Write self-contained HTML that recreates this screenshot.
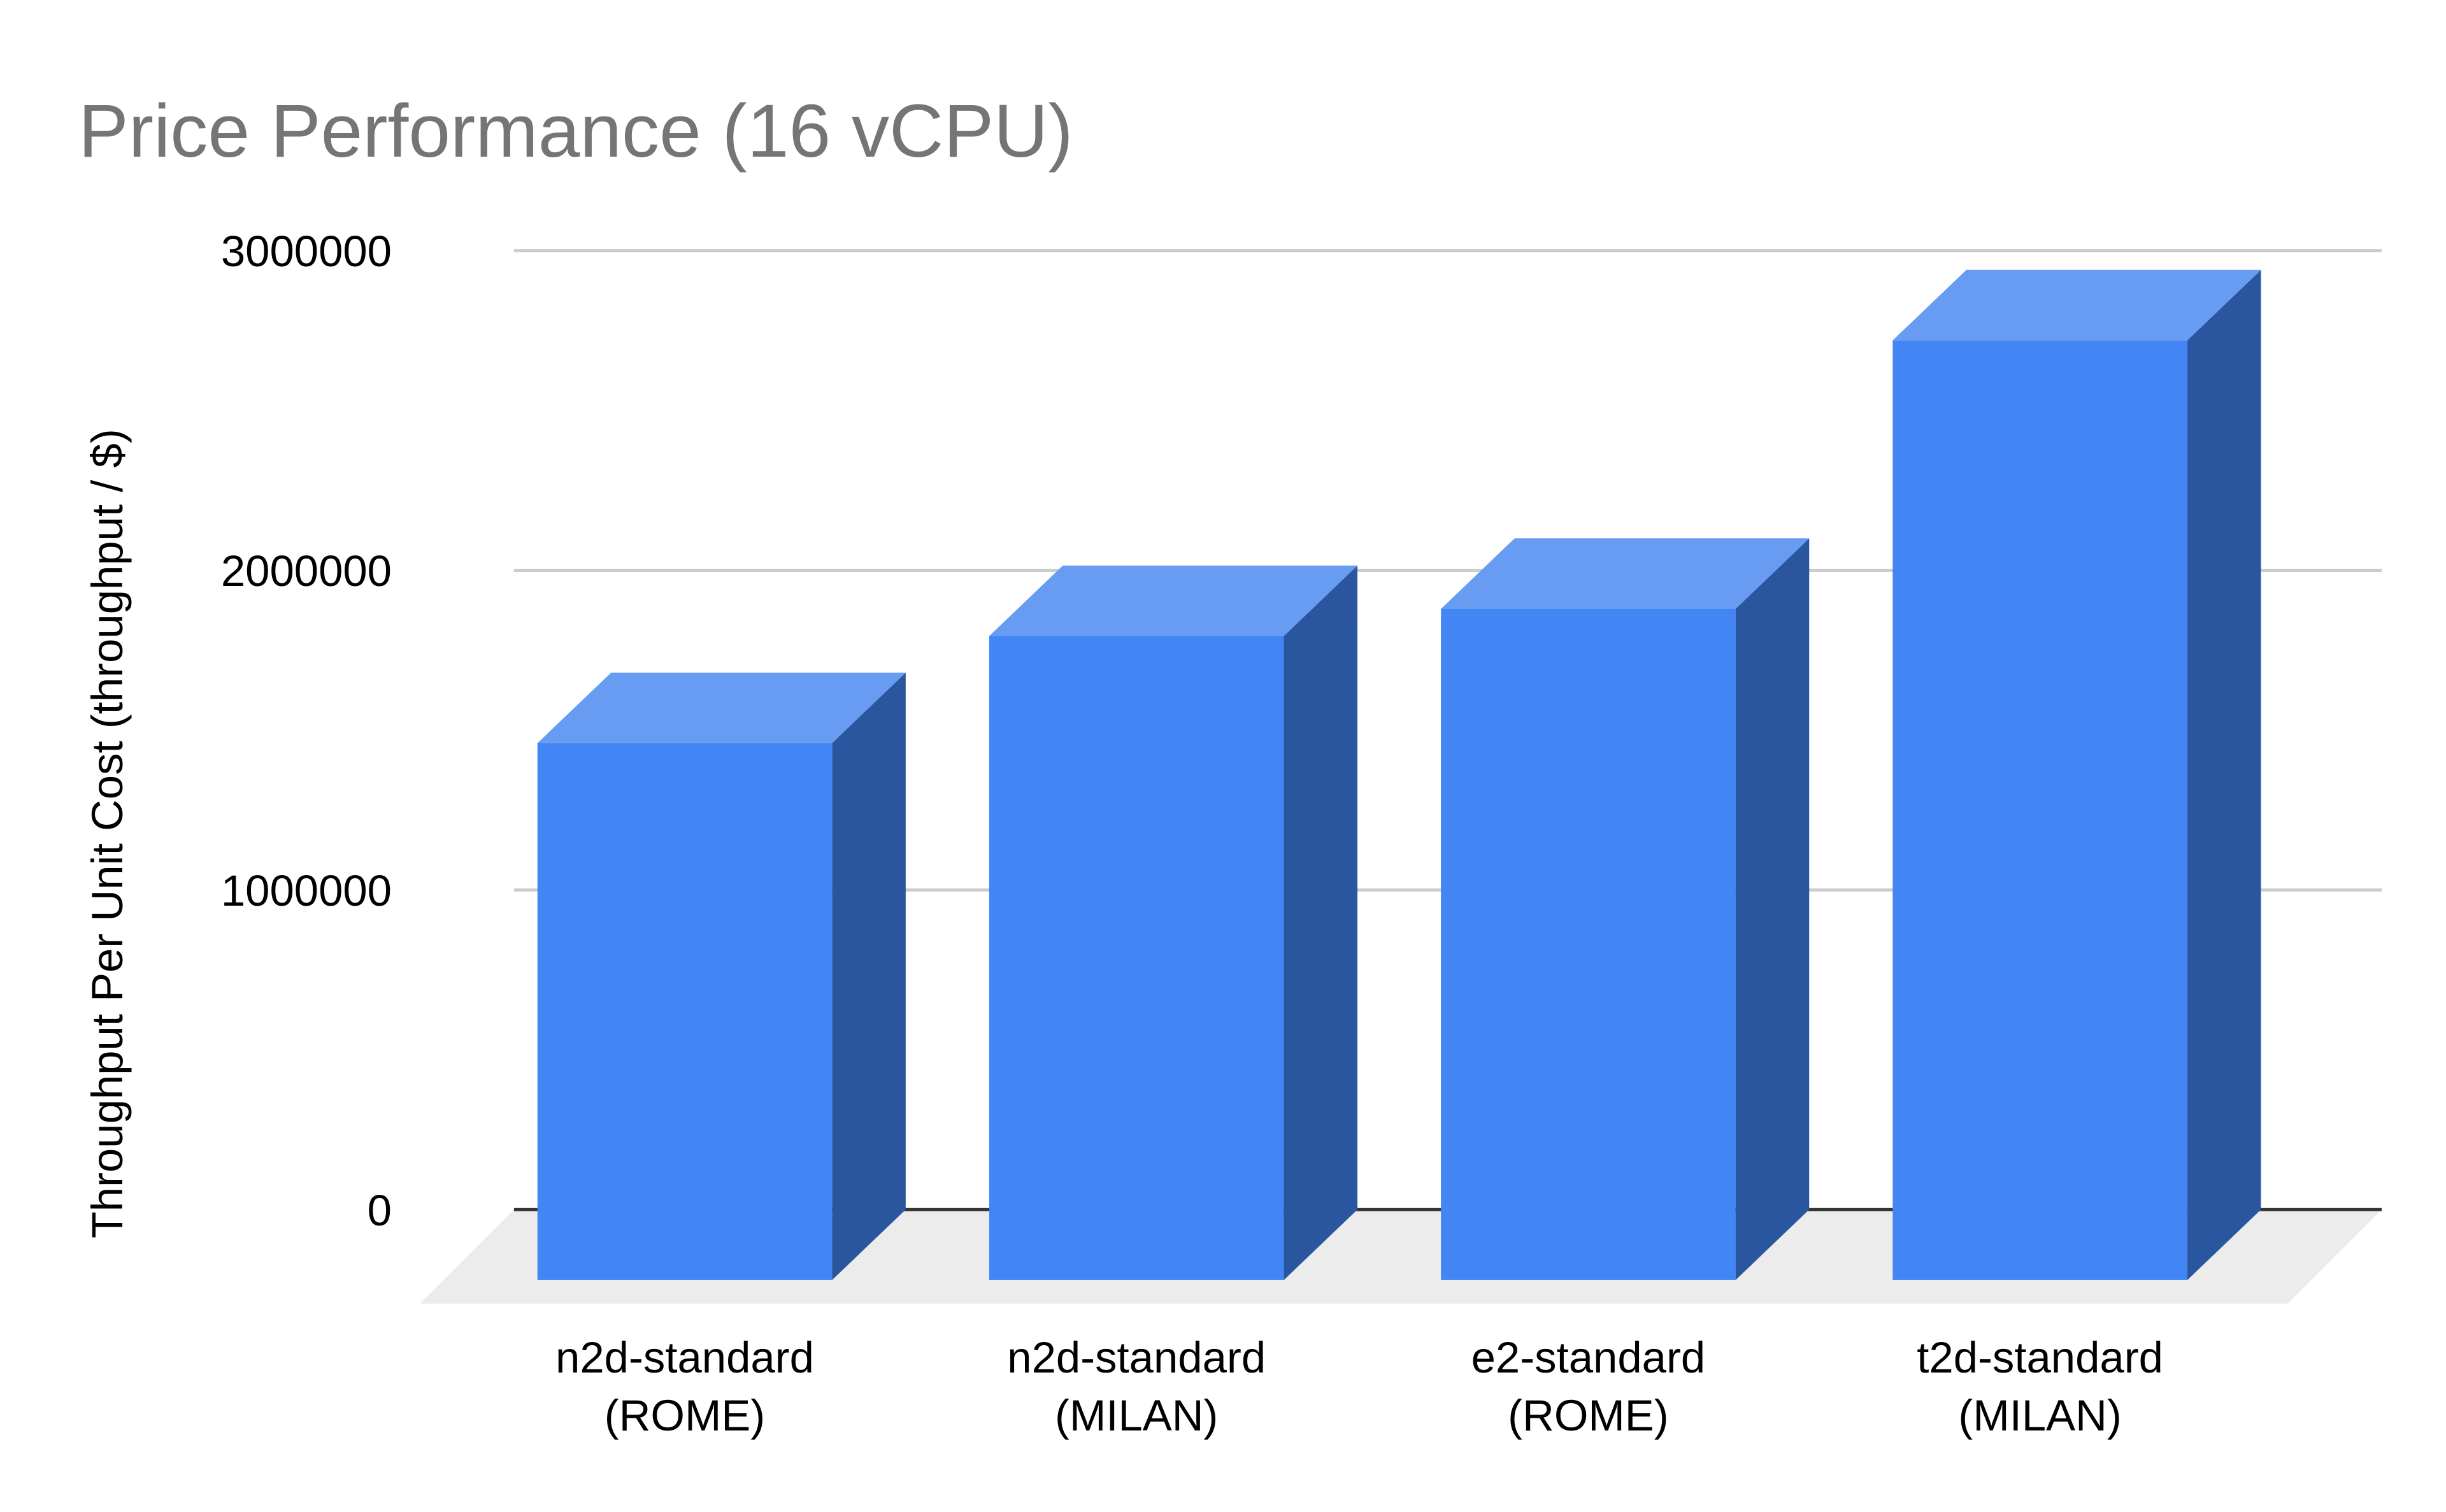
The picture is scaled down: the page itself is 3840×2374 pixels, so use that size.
<!DOCTYPE html>
<html><head><meta charset="utf-8"><style>
html,body{margin:0;padding:0;background:#fff}
svg{display:block}
text{font-family:"Liberation Sans",Arial,sans-serif}
</style></head><body>
<svg id="chart" width="3840" height="2374" viewBox="0 0 1561 965" preserveAspectRatio="none" xmlns="http://www.w3.org/2000/svg">
<rect x="0" y="0" width="1561" height="965" fill="#fff"/>
<text x="50" y="100" font-size="48" fill="#757575">Price Performance (16 vCPU)</text>
<text transform="translate(78,532) rotate(-90)" text-anchor="middle" font-size="28" fill="#000">Throughput Per Unit Cost (throughput / $)</text>
<g id="grid"></g>
<g id="bars"></g>
<g id="labels"></g>
</svg>
<script>
const categories = [["n2d-standard","(ROME)"],["n2d-standard","(MILAN)"],["e2-standard","(ROME)"],["t2d-standard","(MILAN)"]];
const values = [1680000, 2015000, 2100000, 2940000];
const yTicks = [0, 1000000, 2000000, 3000000];
const yTickLabels = ["0", "1000000", "2000000", "3000000"];

const NS = "http://www.w3.org/2000/svg";
const y0 = 772, yPerUnit = (772 - 160) / 3000000;
function yScale(v){ return y0 - v * yPerUnit; }
const plotL = 328, plotR = 1520, depthX = 47, depthY = 45;
const barW = 188, firstX = 343, pitch = 288.3;
function xScale(i){ return firstX + i * pitch; }
function mk(tag, attrs, parent){ const e = document.createElementNS(NS, tag); for (const k in attrs) e.setAttribute(k, attrs[k]); parent.appendChild(e); return e; }

const grid = document.getElementById('grid');
const floor = mk('polygon', {points:`${plotL},${y0} ${plotR},${y0} ${plotR-60},${y0+60} ${plotL-60},${y0+60}`, fill:'#ececec'}, grid);


yTicks.forEach((t, i) => {
  const y = yScale(t);
  const ln = mk('line', {x1:plotL, x2:plotR, y1:y, y2:y, stroke: t === 0 ? '#333' : '#ccc', 'stroke-width': 2}, grid);
  
  
  const tx = mk('text', {x:250, y:y+10, 'text-anchor':'end', 'font-size':28, fill:'#000'}, grid);
  tx.textContent = yTickLabels[i];
  
  
});

const bars = document.getElementById('bars');
const labels = document.getElementById('labels');
values.forEach((v, i) => {
  const x = xScale(i);
  const fb = y0 + depthY;           // front bottom
  const ft = yScale(v) + depthY;    // front top
  const g = mk('g', {}, bars);
  
  
  mk('polygon', {points:`${x+barW},${ft} ${x+barW+depthX},${ft-depthY} ${x+barW+depthX},${fb-depthY} ${x+barW},${fb}`, fill:'#2a56a0'}, g);
  mk('polygon', {points:`${x},${ft} ${x+depthX},${ft-depthY} ${x+barW+depthX},${ft-depthY} ${x+barW},${ft}`, fill:'#689cf3'}, g);
  mk('rect', {x:x, y:ft, width:barW, height:fb-ft, fill:'#4285f4'}, g);
  const cx = x + barW / 2;
  categories[i].forEach((line, j) => {
    const t = mk('text', {x:cx, y:876 + j * 37, 'text-anchor':'middle', 'font-size':28, fill:'#000'}, labels);
    t.textContent = line;
    
    
  });
});
</script>
</body></html>
